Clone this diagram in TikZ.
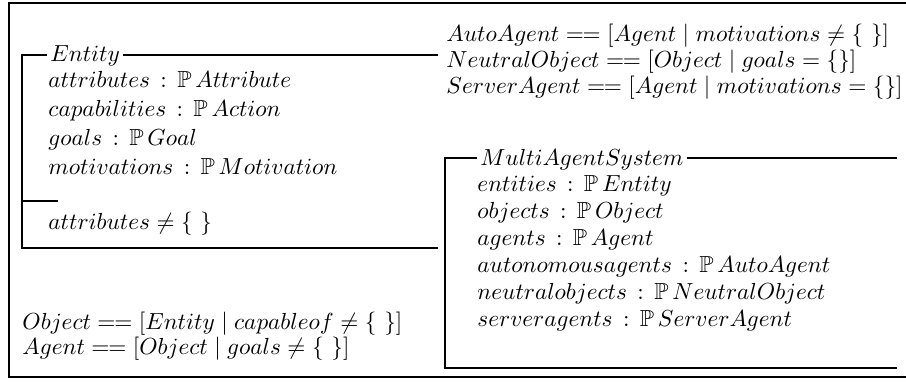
\documentclass[tikz,border=0pt]{standalone}
\usepackage{amsmath, amssymb}
\usetikzlibrary{positioning,calc}

\newcommand{\zdefs}{\mathrel{=\mkern-1mu=}}
\newcommand{\zcol}{\mathrel{\,:\,}}

\tikzset{
  every node/.style={inner sep=0pt, anchor=base west},
  title/.style={inner xsep=1.25pt},
  frame/.style={line width=1.25pt},
  schema/.style={line width=0.85pt}
}

\begin{document}
\begin{tikzpicture}[x=0.43pt, y=-0.43pt]
\useasboundingbox (0,0) rectangle (906,382);
\draw[frame] (906,3) -- (9,3) -- (9,377) -- (906,377);

% Entity schema
\coordinate (etl) at (22,55);
\node[title] (et) at (47,62) {$Entity$};
\node (e1) at (48,88) {$attributes \zcol \mathbb{P}\,Attribute$};
\node (e2) at (48,117) {$capabilities \zcol \mathbb{P}\,Action$};
\node (e3) at (48,146) {$goals \zcol \mathbb{P}\,Goal$};
\node (e4) at (48,175) {$motivations \zcol \mathbb{P}\,Motivation$};
\node (e5) at (48,230) {$attributes \neq \{\ \}$};
\draw[schema] (et.west |- etl) -- (etl) -- (22,248) -- (438,248);
\draw[schema] (et.east |- etl) -- (438,55);
\draw[schema] (22,201) -- (58,201);

% abbreviations
\node (d1) at (446,42) {$AutoAgent \zdefs [Agent \mid motivations \neq \{\ \}]$};
\node (d2) at (446,68) {$NeutralObject \zdefs [Object \mid goals = \{\}]$};
\node (d3) at (446,94) {$ServerAgent \zdefs [Agent \mid motivations = \{\}]$};
\node (d4) at (22,330) {$Object \zdefs [Entity \mid capableof \neq \{\ \}]$};
\node (d5) at (22,355) {$Agent \zdefs [Object \mid goals \neq \{\ \}]$};

% MultiAgentSystem schema
\coordinate (mtl) at (445,158);
\node[title] (mt) at (477,166) {$MultiAgentSystem$};
\node (m1) at (477,192) {$entities \zcol \mathbb{P}\,Entity$};
\node (m2) at (477,219) {$objects \zcol \mathbb{P}\,Object$};
\node (m3) at (477,246) {$agents \zcol \mathbb{P}\,Agent$};
\node (m4) at (477,273) {$autonomousagents \zcol \mathbb{P}\,AutoAgent$};
\node (m5) at (477,300) {$neutralobjects \zcol \mathbb{P}\,NeutralObject$};
\node (m6) at (477,327) {$serveragents \zcol \mathbb{P}\,ServerAgent$};
\draw[schema] (mt.west |- mtl) -- (mtl) -- (445,368) -- (897,368);
\draw[schema] (mt.east |- mtl) -- (897,158);
\end{tikzpicture}
\end{document}
